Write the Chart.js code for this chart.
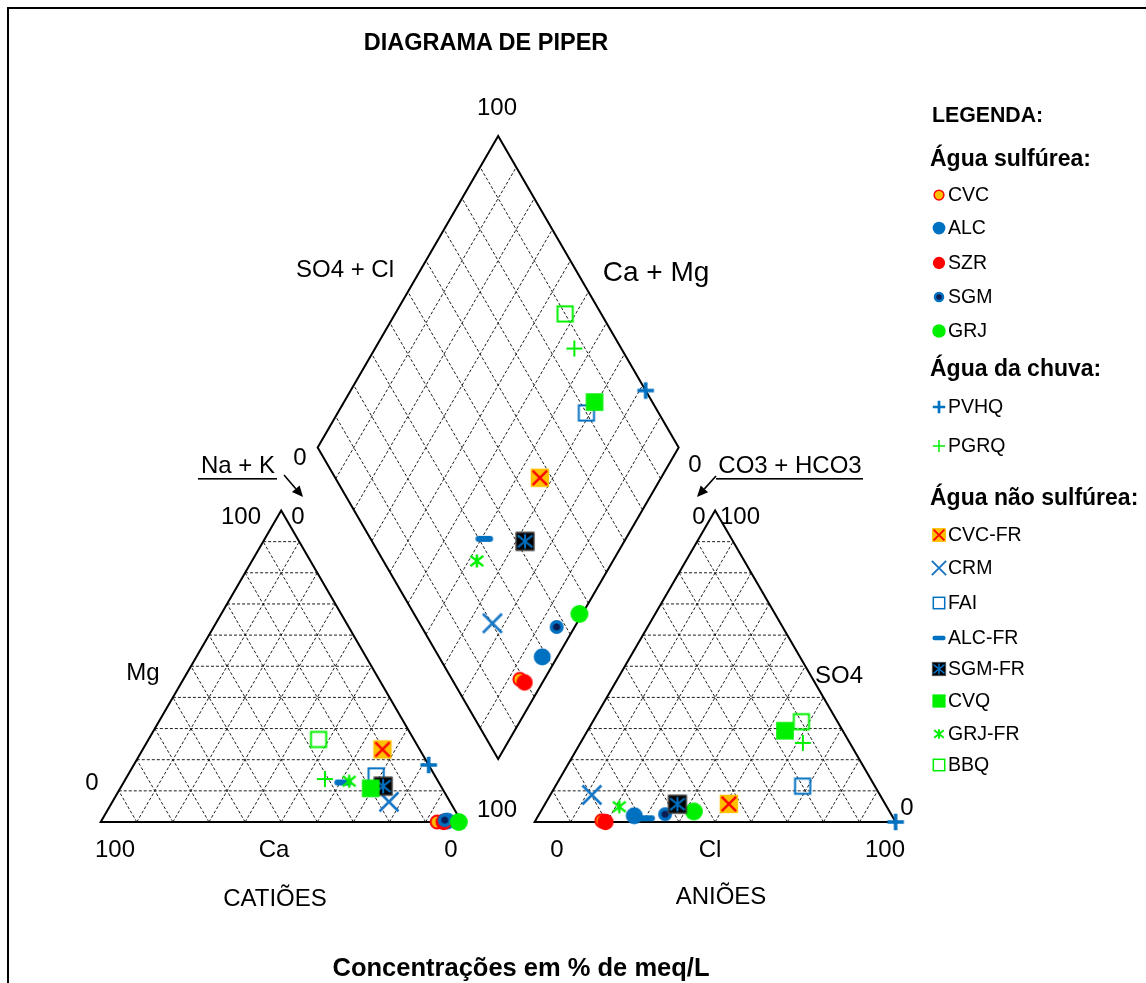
<!DOCTYPE html>
<html lang="pt">
<head>
<meta charset="utf-8">
<title>Diagrama de Piper</title>
<script src="https://cdn.jsdelivr.net/npm/chart.js@4.4.1/dist/chart.umd.min.js"></script>
<style>
  html, body { margin: 0; padding: 0; background: #fff; }
  body { width: 1146px; height: 983px; position: relative; overflow: hidden;
         font-family: "Liberation Sans", Arial, sans-serif; color: #000; }
  #frame { position: absolute; left: 7px; top: 7px; width: 1300px; height: 1200px;
           border: 2px solid #000; box-sizing: border-box; }
  #piper { position: absolute; left: 0; top: 0; }
  .t { position: absolute; white-space: nowrap; line-height: 1; transform: translateY(-50%); }
  .c { transform: translate(-50%, -50%); }
  .b { font-weight: bold; }
  .icon { position: absolute; }
</style>
</head>
<body>
<div id="frame"></div>
<canvas id="piper" width="1146" height="983"></canvas>
<div class="t c b" style="left:486px;top:43px;font-size:23.5px;">DIAGRAMA DE PIPER</div>
<div class="t c b" style="left:521px;top:968px;font-size:25.5px;">Concentrações em % de meq/L</div>
<div id="legend"></div>

<script>
// ---- Samples (ionic composition in % of meq/L) ----
const samples = ['CVC', 'ALC', 'SZR', 'SGM', 'GRJ', 'PVHQ', 'PGRQ',
                 'CVC-FR', 'CRM', 'FAI', 'ALC-FR', 'SGM-FR', 'CVQ', 'GRJ-FR', 'BBQ'];
const groupTitles = ['Água sulfúrea:', 'Água da chuva:', 'Água não sulfúrea:'];
const groupOf = [0, 0, 0, 0, 0, 1, 1, 2, 2, 2, 2, 2, 2, 2, 2];

// cations
const ca  = [6.8, 3.9, 5.0, 4.4, 0.8, 0.0, 31.0, 10.3, 16.9, 16.3, 26.5, 16.0, 19.8, 24.6, 26.4];
const mg  = [0.0, 0.3, 0.0, 0.6, 0.0, 18.3, 13.8, 23.3, 6.5, 14.8, 12.7, 11.5, 10.8, 13.1, 26.5];
const naK = [93.2, 95.8, 95.0, 95.0, 99.2, 81.7, 55.2, 66.4, 76.6, 68.9, 60.8, 72.5, 69.4, 62.3, 47.1];
// anions
const hco3 = [81.2, 71.4, 80.4, 62.6, 54.2, 0.0, 13.0, 43.3, 79.8, 20.0, 68.5, 57.6, 16.0, 74.1, 10.0];
const so4  = [0.4, 2.0, 0.0, 2.5, 3.4, 0.0, 25.4, 5.8, 8.7, 11.5, 1.2, 5.7, 29.3, 4.9, 32.2];
const cl   = [18.4, 26.6, 19.6, 34.9, 42.4, 100.0, 61.6, 50.9, 11.5, 68.5, 30.3, 36.7, 54.7, 21.0, 57.8];

// ---- Marker styles per sample ----
const BLUE = '#0070C0', GREEN = '#00F000', RED = '#FF0000', GOLD = '#FFC000';
const markStyle = {
  'CVC':    { shape: 'circle', r: 6.5, fill: GOLD, stroke: RED, lw: 2 },
  'ALC':    { shape: 'circle', r: 8.5, fill: BLUE },
  'SZR':    { shape: 'circle', r: 8.2, fill: RED },
  'SGM':    { shape: 'circle', r: 5.3, fill: '#0A1E55', stroke: BLUE, lw: 3.4 },
  'GRJ':    { shape: 'circle', r: 9, fill: GREEN },
  'PVHQ':   { shape: 'plus', s: 8.3, stroke: BLUE, lw: 3.6 },
  'PGRQ':   { shape: 'plus', s: 8, stroke: GREEN, lw: 2 },
  'CVC-FR': { shape: 'square', s: 9.2, fill: GOLD, cross: RED, lw: 2.4 },
  'CRM':    { shape: 'x', s: 9.5, stroke: '#1776C6', lw: 2.6 },
  'FAI':    { shape: 'square', s: 8.6, stroke: BLUE, lw: 2 },
  'ALC-FR': { shape: 'dash', w: 8.8, h: 3, fill: BLUE },
  'SGM-FR': { shape: 'square', s: 9.4, fill: '#000', star: BLUE, lw: 2, edge: '#555' },
  'CVQ':    { shape: 'square', s: 8.8, fill: GREEN },
  'GRJ-FR': { shape: 'star', s: 6.4, stroke: GREEN, lw: 2.5 },
  'BBQ':    { shape: 'square', s: 8.6, stroke: GREEN, lw: 2 }
};

// draws one marker centred on (0,0); k scales it down for the legend
function drawMark(ctx, m, k) {
  const lw = v => Math.max(1.3, v * k);
  ctx.lineCap = 'butt';
  if (m.shape === 'circle') {
    ctx.beginPath();
    ctx.arc(0, 0, m.r * k, 0, Math.PI * 2);
    ctx.fillStyle = m.fill; ctx.fill();
    if (m.stroke) { ctx.lineWidth = lw(m.lw); ctx.strokeStyle = m.stroke; ctx.stroke(); }
  } else if (m.shape === 'plus') {
    const s = m.s * k;
    ctx.beginPath();
    ctx.moveTo(-s, 0); ctx.lineTo(s, 0); ctx.moveTo(0, -s); ctx.lineTo(0, s);
    ctx.lineWidth = lw(m.lw); ctx.strokeStyle = m.stroke; ctx.stroke();
  } else if (m.shape === 'x') {
    const s = m.s * k;
    ctx.beginPath();
    ctx.moveTo(-s, -s); ctx.lineTo(s, s); ctx.moveTo(-s, s); ctx.lineTo(s, -s);
    ctx.lineWidth = lw(m.lw); ctx.strokeStyle = m.stroke; ctx.stroke();
  } else if (m.shape === 'star') {
    const s = m.s * k;
    ctx.beginPath();
    ctx.moveTo(0, -s); ctx.lineTo(0, s);
    ctx.moveTo(-s, -s * 0.8); ctx.lineTo(s, s * 0.8);
    ctx.moveTo(-s, s * 0.8); ctx.lineTo(s, -s * 0.8);
    ctx.lineWidth = lw(m.lw); ctx.strokeStyle = m.stroke; ctx.stroke();
  } else if (m.shape === 'dash') {
    const w = m.w * k, h = m.h * k;
    ctx.beginPath();
    ctx.moveTo(-w + h, -h); ctx.lineTo(w - h, -h);
    ctx.arc(w - h, 0, h, -Math.PI / 2, Math.PI / 2);
    ctx.lineTo(-w + h, h);
    ctx.arc(-w + h, 0, h, Math.PI / 2, Math.PI * 1.5);
    ctx.fillStyle = m.fill; ctx.fill();
  } else if (m.shape === 'square') {
    const s = m.s * k;
    if (m.fill) { ctx.fillStyle = m.fill; ctx.fillRect(-s, -s, 2 * s, 2 * s); }
    if (m.edge) { ctx.lineWidth = 1; ctx.strokeStyle = m.edge; ctx.strokeRect(-s + 0.5, -s + 0.5, 2 * s - 1, 2 * s - 1); }
    if (m.stroke) {
      const w = lw(m.lw);
      ctx.lineWidth = w; ctx.strokeStyle = m.stroke;
      ctx.strokeRect(-s + w / 2, -s + w / 2, 2 * s - w, 2 * s - w);
    }
    if (m.cross) {
      const c = s * 0.78;
      ctx.beginPath();
      ctx.moveTo(-c, -c); ctx.lineTo(c, c); ctx.moveTo(-c, c); ctx.lineTo(c, -c);
      ctx.lineWidth = lw(m.lw); ctx.strokeStyle = m.cross; ctx.stroke();
    }
    if (m.star) {
      const c = s * 0.78;
      ctx.beginPath();
      ctx.moveTo(0, -c); ctx.lineTo(0, c);
      ctx.moveTo(-c, -c * 0.8); ctx.lineTo(c, c * 0.8);
      ctx.moveTo(-c, c * 0.8); ctx.lineTo(c, -c * 0.8);
      ctx.lineWidth = lw(m.lw); ctx.strokeStyle = m.star; ctx.stroke();
    }
  }
}

function makeIcon(m, k, size) {
  const cv = document.createElement('canvas');
  cv.width = size; cv.height = size;
  const ctx = cv.getContext('2d');
  ctx.translate(size / 2, size / 2);
  drawMark(ctx, m, k);
  return cv;
}

// ---- Piper geometry (data units: triangle side = 100) ----
const H = Math.sqrt(3) / 2;
const GAP = 20.2;                 // spacing between the two base triangles
const AN_X0 = 100 + GAP;          // left corner of the anion triangle

const cationXY = i => ({ x: naK[i] + mg[i] / 2, y: mg[i] * H });
const anionXY  = i => ({ x: AN_X0 + cl[i] + so4[i] / 2, y: so4[i] * H });
const diamondXY = i => {
  const a = naK[i], b = AN_X0 + 100 - hco3[i];
  return { x: (a + b) / 2, y: (b - a) * H };
};

const lerp = (P, Q, f) => ({ x: P.x + (Q.x - P.x) * f, y: P.y + (Q.y - P.y) * f });
const BREAK = { x: 0, y: null };

function triCorners(x0) {
  return [{ x: x0, y: 0 }, { x: x0 + 100, y: 0 }, { x: x0 + 50, y: 100 * H }];
}
const D0 = { x: 100 + GAP / 2, y: GAP * H };
const DL = { x: D0.x - 50, y: D0.y + 100 * H };
const DR = { x: D0.x + 50, y: D0.y + 100 * H };
const DT = { x: D0.x, y: D0.y + 200 * H };

const gridPts = [];
const seg = (P, Q) => { gridPts.push(P, Q, BREAK); };
for (const x0 of [0, AN_X0]) {
  const [A, B, C] = triCorners(x0);
  for (let p = 10; p < 100; p += 10) {
    const f = p / 100;
    seg(lerp(A, C, f), lerp(B, C, f));
    seg(lerp(A, B, f), lerp(C, B, f));
    seg(lerp(B, A, f), lerp(C, A, f));
  }
}
for (let p = 10; p < 100; p += 10) {
  const f = p / 100;
  seg(lerp(D0, DR, f), lerp(DL, DT, f));
  seg(lerp(D0, DL, f), lerp(DR, DT, f));
}

const outlinePts = [];
for (const x0 of [0, AN_X0]) {
  const [A, B, C] = triCorners(x0);
  outlinePts.push(A, B, C, A, B, BREAK);
}
outlinePts.push(D0, DR, DT, DL, D0, DR, BREAK);

// ---- Datasets ----
const datasets = [
  { label: 'grid', data: gridPts, showLine: true, pointRadius: 0, borderColor: '#1e1e1e',
    borderWidth: 1, borderDash: [3, 2], spanGaps: false, order: 1000 },
  { label: 'outline', data: outlinePts, showLine: true, pointRadius: 0, borderColor: '#000',
    borderWidth: 2, spanGaps: false, order: 999 }
];
samples.forEach((name, i) => {
  datasets.push({
    label: name,
    data: [cationXY(i), anionXY(i), diamondXY(i)],
    showLine: false,
    pointStyle: makeIcon(markStyle[name], 1, 28),
    pointRadius: 9,
    order: samples.length - i
  });
});

// ---- Axis annotations ----
const axisText = [
  ['100', 497, 108, 24], ['SO4 + Cl', 345, 270, 24], ['Ca + Mg', 656, 273, 28],
  ['0', 300, 458, 24], ['0', 695, 465, 24],
  ['Na + K', 238, 466, 24], ['CO3 + HCO3', 790, 466, 24],
  ['100', 241, 517, 24], ['0', 298, 517, 24], ['Mg', 143, 673, 24], ['0', 92, 783, 24],
  ['100', 115, 850, 24], ['Ca', 274, 850, 24], ['0', 451, 850, 24], ['100', 497, 810, 24],
  ['0', 699, 517, 24], ['100', 740, 517, 24], ['SO4', 839, 676, 24], ['0', 907, 808, 24],
  ['0', 557, 850, 24], ['Cl', 710, 850, 24], ['100', 885, 850, 24],
  ['CATIÕES', 275, 899, 24], ['ANIÕES', 721, 897, 24]
];

function arrow(ctx, x1, y1, x2, y2) {
  const ang = Math.atan2(y2 - y1, x2 - x1), L = 11, W = 5;
  const bx = x2 - L * Math.cos(ang), by = y2 - L * Math.sin(ang);
  ctx.beginPath(); ctx.moveTo(x1, y1); ctx.lineTo(bx, by);
  ctx.lineWidth = 1.6; ctx.strokeStyle = '#000'; ctx.stroke();
  ctx.beginPath();
  ctx.moveTo(x2, y2);
  ctx.lineTo(bx + W * Math.sin(ang), by - W * Math.cos(ang));
  ctx.lineTo(bx - W * Math.sin(ang), by + W * Math.cos(ang));
  ctx.closePath(); ctx.fillStyle = '#000'; ctx.fill();
}

const annotations = {
  id: 'piperAnnotations',
  beforeDatasetsDraw(chart) {
    const ctx = chart.ctx;
    ctx.save();
    ctx.fillStyle = '#000';
    ctx.textAlign = 'center';
    ctx.textBaseline = 'middle';
    for (const [t, x, y, fs] of axisText) {
      ctx.font = fs + 'px "Liberation Sans", Arial, sans-serif';
      ctx.fillText(t, x, y);
    }
    ctx.fillRect(198, 478, 79, 1.6);
    ctx.fillRect(716, 478, 147, 1.6);
    arrow(ctx, 284, 475, 303, 497);
    arrow(ctx, 716, 476, 697, 497);
    ctx.restore();
  }
};

// chart area spans the whole canvas; scales fixed so that 1 unit ≈ 3.6 px
const PX_X = 3.61, PX_Y = 3.597, ORIGIN_X = 100.7, ORIGIN_Y = 822;
const X_MIN = -ORIGIN_X / PX_X, X_MAX = X_MIN + 1146 / PX_X;
const Y_MAX = ORIGIN_Y / PX_Y, Y_MIN = Y_MAX - 983 / PX_Y;

new Chart(document.getElementById('piper'), {
  type: 'scatter',
  data: { datasets },
  options: {
    responsive: false,
    animation: false,
    devicePixelRatio: 1,
    events: [],
    layout: { padding: 0, autoPadding: false },
    scales: {
      x: { type: 'linear', min: X_MIN, max: X_MAX, display: false },
      y: { type: 'linear', min: Y_MIN, max: Y_MAX, display: false }
    },
    plugins: { legend: { display: false }, tooltip: { enabled: false } }
  },
  plugins: [annotations]
});

// ---- Legend ----
const legend = document.getElementById('legend');
function addText(txt, x, y, size, bold) {
  const d = document.createElement('div');
  d.className = 't' + (bold ? ' b' : '');
  d.style.left = x + 'px'; d.style.top = y + 'px'; d.style.fontSize = size + 'px';
  d.textContent = txt;
  legend.appendChild(d);
}
const headingY = [158, 368, 497];
const rowY = [195, 228, 263, 297, 331, 407, 446, 535, 568, 603, 638, 669, 701, 734, 765];
addText('LEGENDA:', 932, 116, 21.3, true);
groupTitles.forEach((g, j) => addText(g, 930, headingY[j], 23, true));
samples.forEach((name, i) => {
  const icon = makeIcon(markStyle[name], 0.75, 18);
  icon.className = 'icon';
  icon.style.left = (939 - 9) + 'px';
  icon.style.top = (rowY[i] - 9) + 'px';
  legend.appendChild(icon);
  addText(name, 948, rowY[i], 19.5, false);
});
</script>
</body>
</html>
